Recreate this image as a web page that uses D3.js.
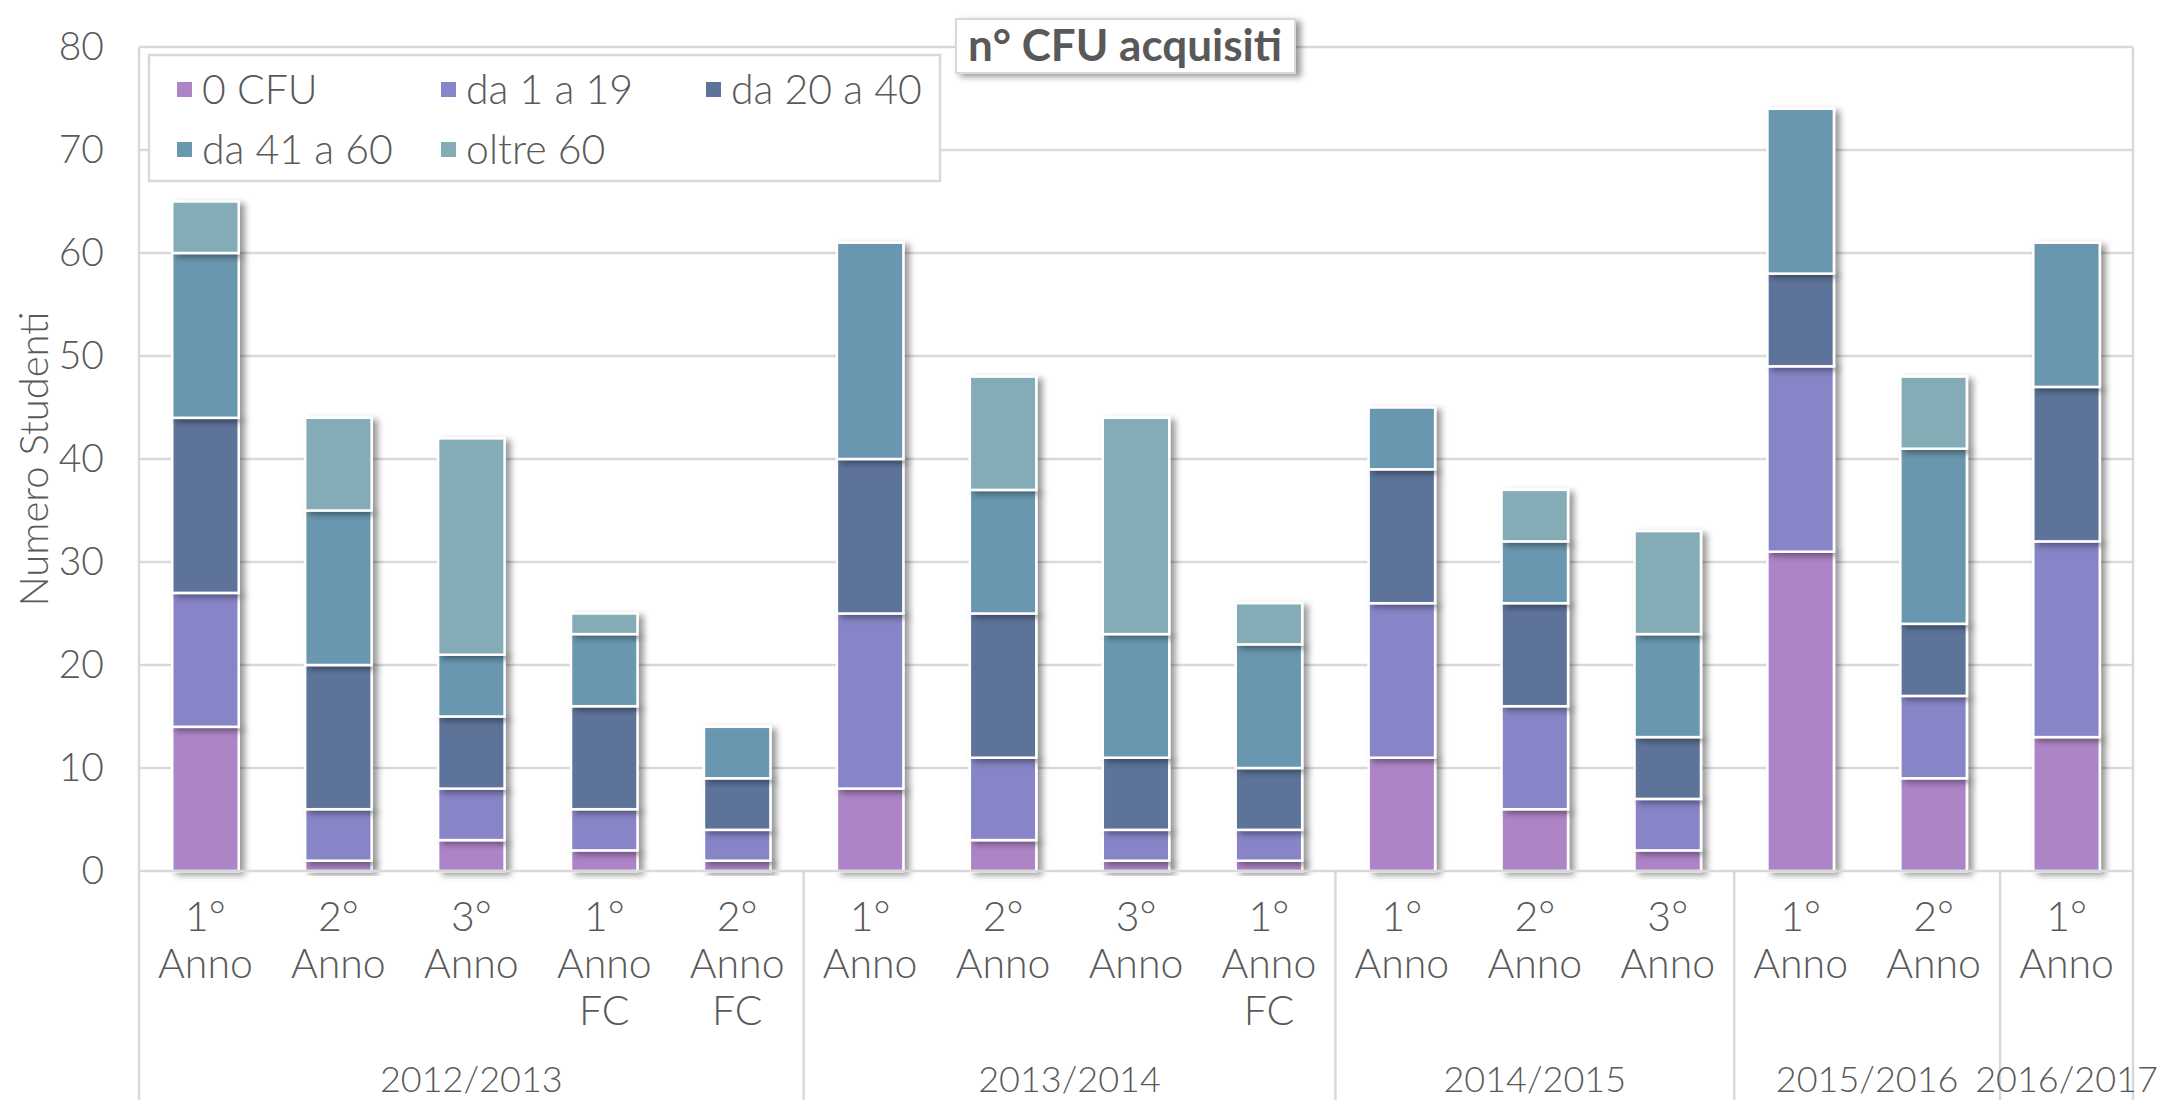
<!DOCTYPE html>
<html>
<head>
<meta charset="utf-8">
<script src="https://cdn.jsdelivr.net/npm/d3@7"></script>
<style>
  body { margin: 0; background: #fff; }
  svg { display: block; font-family: "Century Gothic", Lato, sans-serif; font-weight: 300; }
</style>
</head>
<body>
<div id="chart"></div>
<script>
// categories (each label split on lines) and the year group each belongs to
const categories = [
  ["1°", "Anno"], ["2°", "Anno"], ["3°", "Anno"], ["1°", "Anno", "FC"], ["2°", "Anno", "FC"],
  ["1°", "Anno"], ["2°", "Anno"], ["3°", "Anno"], ["1°", "Anno", "FC"],
  ["1°", "Anno"], ["2°", "Anno"], ["3°", "Anno"],
  ["1°", "Anno"], ["2°", "Anno"],
  ["1°", "Anno"]
];
const groups = [
  {label: "2012/2013", count: 5},
  {label: "2013/2014", count: 4},
  {label: "2014/2015", count: 3},
  {label: "2015/2016", count: 2},
  {label: "2016/2017", count: 1}
];

const seriesNames = ["0 CFU", "da 1 a 19", "da 20 a 40", "da 41 a 60", "oltre 60"];
const cfu0     = [14, 1, 3, 2, 1,  8, 3, 1, 1,  11, 6, 2,  31, 9,  13];
const cfu1_19  = [13, 5, 5, 4, 3, 17, 8, 3, 3,  15, 10, 5, 18, 8,  19];
const cfu20_40 = [17, 14, 7, 10, 5, 15, 14, 7, 6, 13, 10, 6, 9, 7, 15];
const cfu41_60 = [16, 15, 6, 7, 5, 21, 12, 12, 12, 6, 6, 10, 16, 17, 14];
const cfuOver  = [5, 9, 21, 2, 0,  0, 11, 21, 4,  0, 5, 10,  0, 7,  0];
const yTicks = [0, 10, 20, 30, 40, 50, 60, 70, 80];

const colors = ["#ad84c6", "#8784c7", "#5d739a", "#6997af", "#84acb6"];
const textColor = "#595959";
const gridColor = "#d9d9d9";

const width = 2162, height = 1100;
const plot = {left: 139, right: 2133, top: 47, bottom: 871};

const svg = d3.select("#chart").append("svg")
  .attr("width", width)
  .attr("height", height);

const defs = svg.append("defs");
const shadow = defs.append("filter").attr("id", "shadow")
  .attr("x", "-20%").attr("y", "-20%").attr("width", "160%").attr("height", "160%");
shadow.append("feDropShadow")
  .attr("dx", 5).attr("dy", 3).attr("stdDeviation", 3)
  .attr("flood-color", "#000").attr("flood-opacity", 0.4);

// rows for the stack
const rows = categories.map((c, i) => ({
  i: i,
  "0 CFU": cfu0[i],
  "da 1 a 19": cfu1_19[i],
  "da 20 a 40": cfu20_40[i],
  "da 41 a 60": cfu41_60[i],
  "oltre 60": cfuOver[i]
}));
const stacked = d3.stack().keys(seriesNames)(rows);

const x = d3.scaleBand()
  .domain(d3.range(categories.length))
  .range([plot.left, plot.right])
  .paddingInner(0.5)
  .paddingOuter(0.25);
const step = (plot.right - plot.left) / categories.length;

const y = d3.scaleLinear()
  .domain([0, 80])
  .range([plot.bottom, plot.top]);

// horizontal gridlines
svg.append("g")
  .selectAll("line")
  .data(yTicks.slice(1))
  .join("line")
  .attr("x1", plot.left).attr("x2", plot.right)
  .attr("y1", d => y(d)).attr("y2", d => y(d))
  .attr("stroke", gridColor).attr("stroke-width", 2.5);

// y axis labels
const yAxis = svg.append("g")
  .attr("transform", `translate(${plot.left},0)`)
  .call(d3.axisLeft(y).tickValues(yTicks).tickSize(0).tickPadding(35));
yAxis.select(".domain").remove();
yAxis.selectAll("text")
  .attr("fill", textColor)
  .style("font-size", "39px")
  .style("font-weight", 300)
  .style("font-family", "'Century Gothic', Lato, sans-serif");

// y axis title
svg.append("text")
  .attr("transform", `translate(48,${(plot.top + plot.bottom) / 2}) rotate(-90)`)
  .attr("text-anchor", "middle")
  .attr("fill", textColor)
  .style("font-size", "40px")
  .text("Numero Studenti");

// bars
svg.append("g")
  .selectAll("g")
  .data(stacked)
  .join("g")
  .attr("fill", (d, i) => colors[i])
  .selectAll("rect")
  .data(d => d.filter(s => s[1] - s[0] > 0))
  .join("rect")
  .attr("x", d => x(d.data.i))
  .attr("width", x.bandwidth())
  .attr("y", d => y(d[1]))
  .attr("height", d => y(d[0]) - y(d[1]))
  .attr("stroke", "#fff")
  .attr("stroke-width", 2.5)
  .attr("filter", "url(#shadow)");

// axis lines: bottom, left, right, group separators
const axisG = svg.append("g").attr("stroke", gridColor).attr("stroke-width", 2.5);
axisG.append("line")
  .attr("x1", plot.left).attr("x2", plot.right)
  .attr("y1", plot.bottom).attr("y2", plot.bottom);
axisG.append("line")
  .attr("x1", plot.left).attr("x2", plot.left)
  .attr("y1", plot.top).attr("y2", height);
axisG.append("line")
  .attr("x1", plot.right).attr("x2", plot.right)
  .attr("y1", plot.top).attr("y2", height);

let start = 0;
const groupPos = groups.map(g => {
  const p = {label: g.label, start: start, end: start + g.count};
  start += g.count;
  return p;
});
axisG.selectAll(".sep")
  .data(groupPos.slice(1))
  .join("line")
  .attr("class", "sep")
  .attr("x1", d => plot.left + d.start * step)
  .attr("x2", d => plot.left + d.start * step)
  .attr("y1", plot.bottom).attr("y2", height);

// category labels
const catG = svg.append("g")
  .attr("fill", textColor)
  .style("font-size", "41px")
  .attr("text-anchor", "middle");
categories.forEach((lines, i) => {
  const t = catG.append("text")
    .attr("x", x(i) + x.bandwidth() / 2)
    .attr("y", 931);
  lines.forEach((l, k) => {
    t.append("tspan")
      .attr("x", x(i) + x.bandwidth() / 2)
      .attr("dy", k === 0 ? 0 : 47)
      .text(l);
  });
});

// group labels
svg.append("g")
  .selectAll("text")
  .data(groupPos)
  .join("text")
  .attr("x", d => plot.left + (d.start + d.end) / 2 * step)
  .attr("y", 1092)
  .attr("text-anchor", "middle")
  .attr("fill", textColor)
  .style("font-size", "36px")
  .text(d => d.label);

// legend
const legend = svg.append("g");
legend.append("rect")
  .attr("x", 149).attr("y", 55)
  .attr("width", 791).attr("height", 126)
  .attr("fill", "#fff")
  .attr("stroke", gridColor).attr("stroke-width", 2.5);
const legendPos = [[177, 90], [441, 90], [706, 90], [177, 150], [441, 150]];
const item = legend.selectAll(".item")
  .data(seriesNames)
  .join("g")
  .attr("class", "item")
  .attr("transform", (d, i) => `translate(${legendPos[i][0]},${legendPos[i][1]})`);
item.append("rect")
  .attr("x", 0).attr("y", -8)
  .attr("width", 15).attr("height", 15)
  .attr("fill", (d, i) => colors[i]);
item.append("text")
  .attr("x", 25).attr("y", 14)
  .attr("fill", textColor)
  .style("font-size", "41px")
  .text(d => d);

// title box
const title = svg.append("g");
title.append("rect")
  .attr("x", 956).attr("y", 19)
  .attr("width", 339).attr("height", 54)
  .attr("fill", "#fff")
  .attr("stroke", gridColor).attr("stroke-width", 2)
  .attr("filter", "url(#shadow)");
title.append("text")
  .attr("x", 1125).attr("y", 61)
  .attr("text-anchor", "middle")
  .attr("fill", textColor)
  .style("font-size", "44px")
  .style("font-weight", "bold")
  .text("n° CFU acquisiti");
</script>
</body>
</html>
